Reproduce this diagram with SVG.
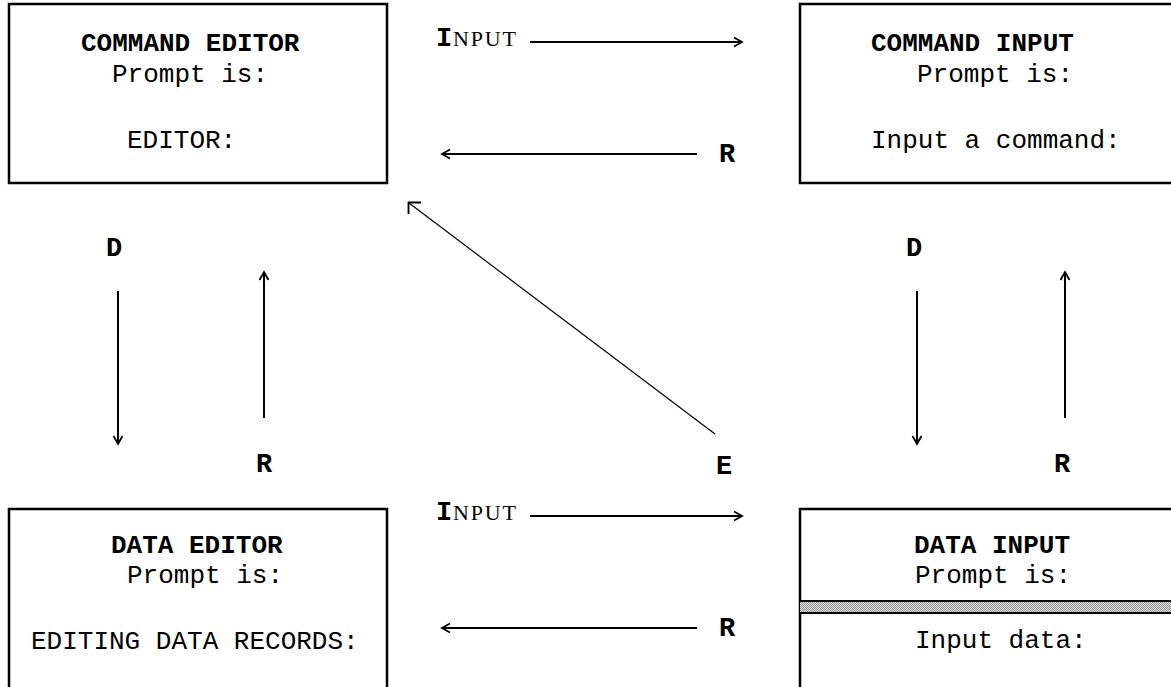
<svg xmlns="http://www.w3.org/2000/svg" width="1171" height="687" viewBox="0 0 1171 687">
<style>
.box{fill:#fff;stroke:#000;stroke-width:2.5}
.t{font-family:"Liberation Mono","DejaVu Sans Mono",monospace;font-size:26px;fill:#000}
.b{font-weight:bold}
.lbl{font-family:"Liberation Mono","DejaVu Sans Mono",monospace;font-size:27px;font-weight:bold;fill:#000}
.sm{font-family:"Liberation Serif","DejaVu Serif",serif;font-size:22px;fill:#000}
.c{stroke:#000;stroke-width:2;fill:none}
.thin{stroke:#000;stroke-width:1.2;fill:none}
</style>
<defs>
<marker id="ah" markerUnits="userSpaceOnUse" markerWidth="12" markerHeight="12" refX="9" refY="5" orient="auto">
<path d="M1,0.5 L9,5 L1,9.5" fill="none" stroke="#000" stroke-width="1.8"/>
</marker>
<pattern id="chk" width="2" height="2" patternUnits="userSpaceOnUse">
<rect width="2" height="2" fill="#e4e4e4"/>
<rect width="1" height="1" fill="#8c8c8c"/>
<rect x="1" y="1" width="1" height="1" fill="#8c8c8c"/>
</pattern>
</defs>
<rect width="1171" height="687" fill="#fff"/>

<g id="command-editor">
<rect class="box" x="9" y="4" width="378" height="179"/>
<text class="t b" x="81" y="51">COMMAND EDITOR</text>
<text class="t" x="112" y="82">Prompt is:</text>
<text class="t" x="127" y="148">EDITOR:</text>
</g>

<g id="command-input">
<rect class="box" x="800" y="4" width="400" height="179"/>
<text class="t b" x="871" y="51">COMMAND INPUT</text>
<text class="t" x="917" y="82">Prompt is:</text>
<text class="t" x="871" y="148">Input a command:</text>
</g>

<g id="data-editor">
<rect class="box" x="9" y="509" width="378" height="200"/>
<text class="t b" x="111" y="553">DATA EDITOR</text>
<text class="t" x="127" y="583">Prompt is:</text>
<text class="t" x="31" y="649">EDITING DATA RECORDS:</text>
</g>

<g id="data-input">
<rect class="box" x="800" y="509" width="400" height="200"/>
<rect x="800" y="601" width="400" height="12" fill="url(#chk)"/>
<line class="c" x1="800" y1="601" x2="1171" y2="601" stroke-width="2.5"/>
<line class="c" x1="800" y1="613" x2="1171" y2="613" stroke-width="2.5"/>
<text class="t b" x="914" y="553">DATA INPUT</text>
<text class="t" x="915" y="583">Prompt is:</text>
<text class="t" x="915" y="648">Input data:</text>
</g>

<g id="connectors">
<line class="c" x1="530" y1="42" x2="742" y2="42" marker-end="url(#ah)"/>
<line class="c" x1="697" y1="154" x2="442" y2="154" marker-end="url(#ah)"/>
<line class="c" x1="530" y1="516" x2="742" y2="516" marker-end="url(#ah)"/>
<line class="c" x1="697" y1="628" x2="442" y2="628" marker-end="url(#ah)"/>
<line class="c" x1="118" y1="291" x2="118" y2="444" marker-end="url(#ah)"/>
<line class="c" x1="264" y1="418" x2="264" y2="272" marker-end="url(#ah)"/>
<line class="c" x1="917" y1="291" x2="917" y2="444" marker-end="url(#ah)"/>
<line class="c" x1="1065" y1="418" x2="1065" y2="272" marker-end="url(#ah)"/>
<line class="thin" x1="715" y1="434" x2="409" y2="203"/>
<path d="M421,202.5 H408.5 V214" fill="none" stroke="#000" stroke-width="1.8"/>
</g>

<g id="labels">
<text class="lbl" x="436" y="46">I</text><text class="sm" x="453" y="46" textLength="63" lengthAdjust="spacing">NPUT</text>
<text class="lbl" x="719" y="162">R</text>
<text class="lbl" x="436" y="520">I</text><text class="sm" x="453" y="520" textLength="63" lengthAdjust="spacing">NPUT</text>
<text class="lbl" x="719" y="636">R</text>
<text class="lbl" x="106" y="256">D</text>
<text class="lbl" x="256" y="472">R</text>
<text class="lbl" x="906" y="256">D</text>
<text class="lbl" x="1054" y="472">R</text>
<text class="lbl" x="716" y="474">E</text>
</g>
</svg>
